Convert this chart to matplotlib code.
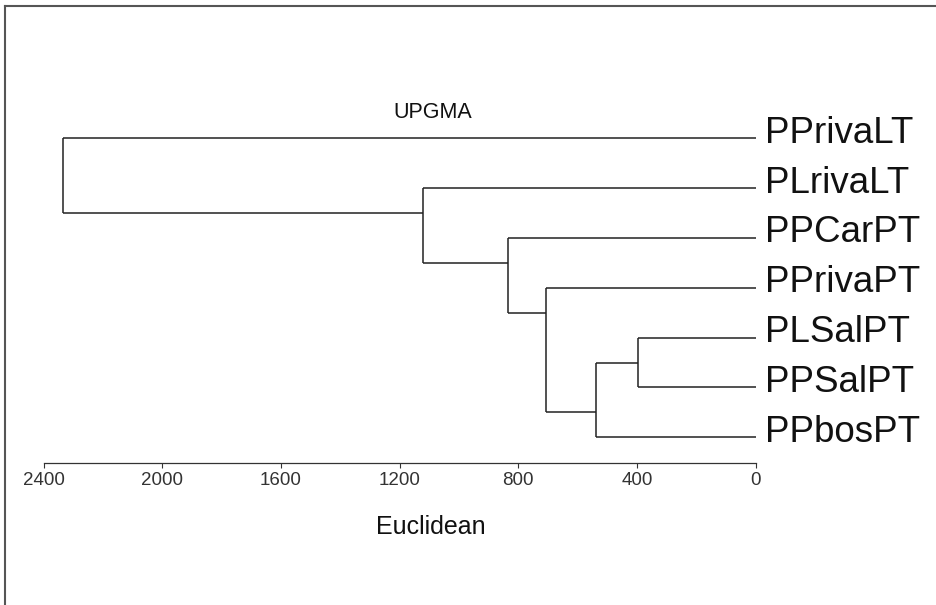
import matplotlib

matplotlib.use("Agg")
import matplotlib.pyplot as plt
from matplotlib.lines import Line2D

plt.rcParams["font.family"] = ["Liberation Sans", "DejaVu Sans"]

# leaves, top to bottom
leaves = ["PPrivaLT", "PLrivaLT", "PPCarPT", "PPrivaPT", "PLSalPT", "PPSalPT", "PPbosPT"]

# merges: (upper child, lower child, Euclidean distance); ints >= 0 are leaves,
# strings refer to earlier merges by name
merge_names = ["n5", "n4", "n3", "n2", "n1", "root"]
merge_upper = [4, "n5", 3, 2, 1, 0]
merge_lower = [5, 6, "n4", "n3", "n2", "n1"]
merge_height = [397, 539, 708, 836, 1121, 2334]

ticks = [2400, 2000, 1600, 1200, 800, 400, 0]

W, H = 936, 605
fig = plt.figure(figsize=(W / 100, H / 100), dpi=100)

x_left, x_right = 43.5, 755.7
y_top_px, y_axis_px = 108.4, 462.7
ax = fig.add_axes([x_left / W, 1 - y_axis_px / H, (x_right - x_left) / W, (y_axis_px - y_top_px) / H])
ax.set_xlim(2400, 0)
ax.set_ylim(6.51, -0.6)

# walk the merges: position = midpoint between last leaf of upper and first leaf of lower
info = {}  # name -> (y, height, first_leaf, last_leaf)


def node(c):
    if isinstance(c, int):
        return (float(c), 0.0, c, c)
    return info[c]


lc = "#222222"
for name, up, lo, h in zip(merge_names, merge_upper, merge_lower, merge_height):
    uy, uh, uf, ul = node(up)
    ly, lh, lf, ll = node(lo)
    y = (ul + lf) / 2
    ax.plot([uh, h], [uy, uy], color=lc, lw=1.1, solid_capstyle="butt")
    ax.plot([lh, h], [ly, ly], color=lc, lw=1.1, solid_capstyle="butt")
    ax.plot([h, h], [uy, ly], color=lc, lw=1.1, solid_capstyle="butt")
    info[name] = (y, h, uf, ll)

for i, lab in enumerate(leaves):
    ax.annotate(lab, xy=(0, i), xytext=(6.8, -3.2), textcoords="offset points",
                ha="left", va="baseline", fontsize=26.5, color="#111111",
                annotation_clip=False)

for s in ["top", "right", "left"]:
    ax.spines[s].set_visible(False)
ax.spines["bottom"].set_color("#333333")
ax.spines["bottom"].set_linewidth(0.9)
ax.set_yticks([])
ax.set_xticks(ticks)
ax.set_xticklabels([str(t) for t in ticks])
ax.tick_params(axis="x", direction="out", length=3.8, width=0.8, color="#333333",
               labelsize=13.5, labelcolor="#333333", pad=3)

fig.text(433 / W, 1 - 112 / H, "UPGMA", ha="center", va="center", fontsize=15.5, color="#111111")
fig.text(431 / W, 1 - 527.5 / H, "Euclidean", ha="center", va="center", fontsize=18, color="#111111")

# frame of the original picture (only top and left edges visible)
fig.add_artist(Line2D([4.5 / W, 4.5 / W], [0, 1 - 5.5 / H], transform=fig.transFigure, color="#555555", lw=1.5))
fig.add_artist(Line2D([4.5 / W, 1], [1 - 5.5 / H, 1 - 5.5 / H], transform=fig.transFigure, color="#555555", lw=1.5))

fig.savefig("out.png", dpi=100)
